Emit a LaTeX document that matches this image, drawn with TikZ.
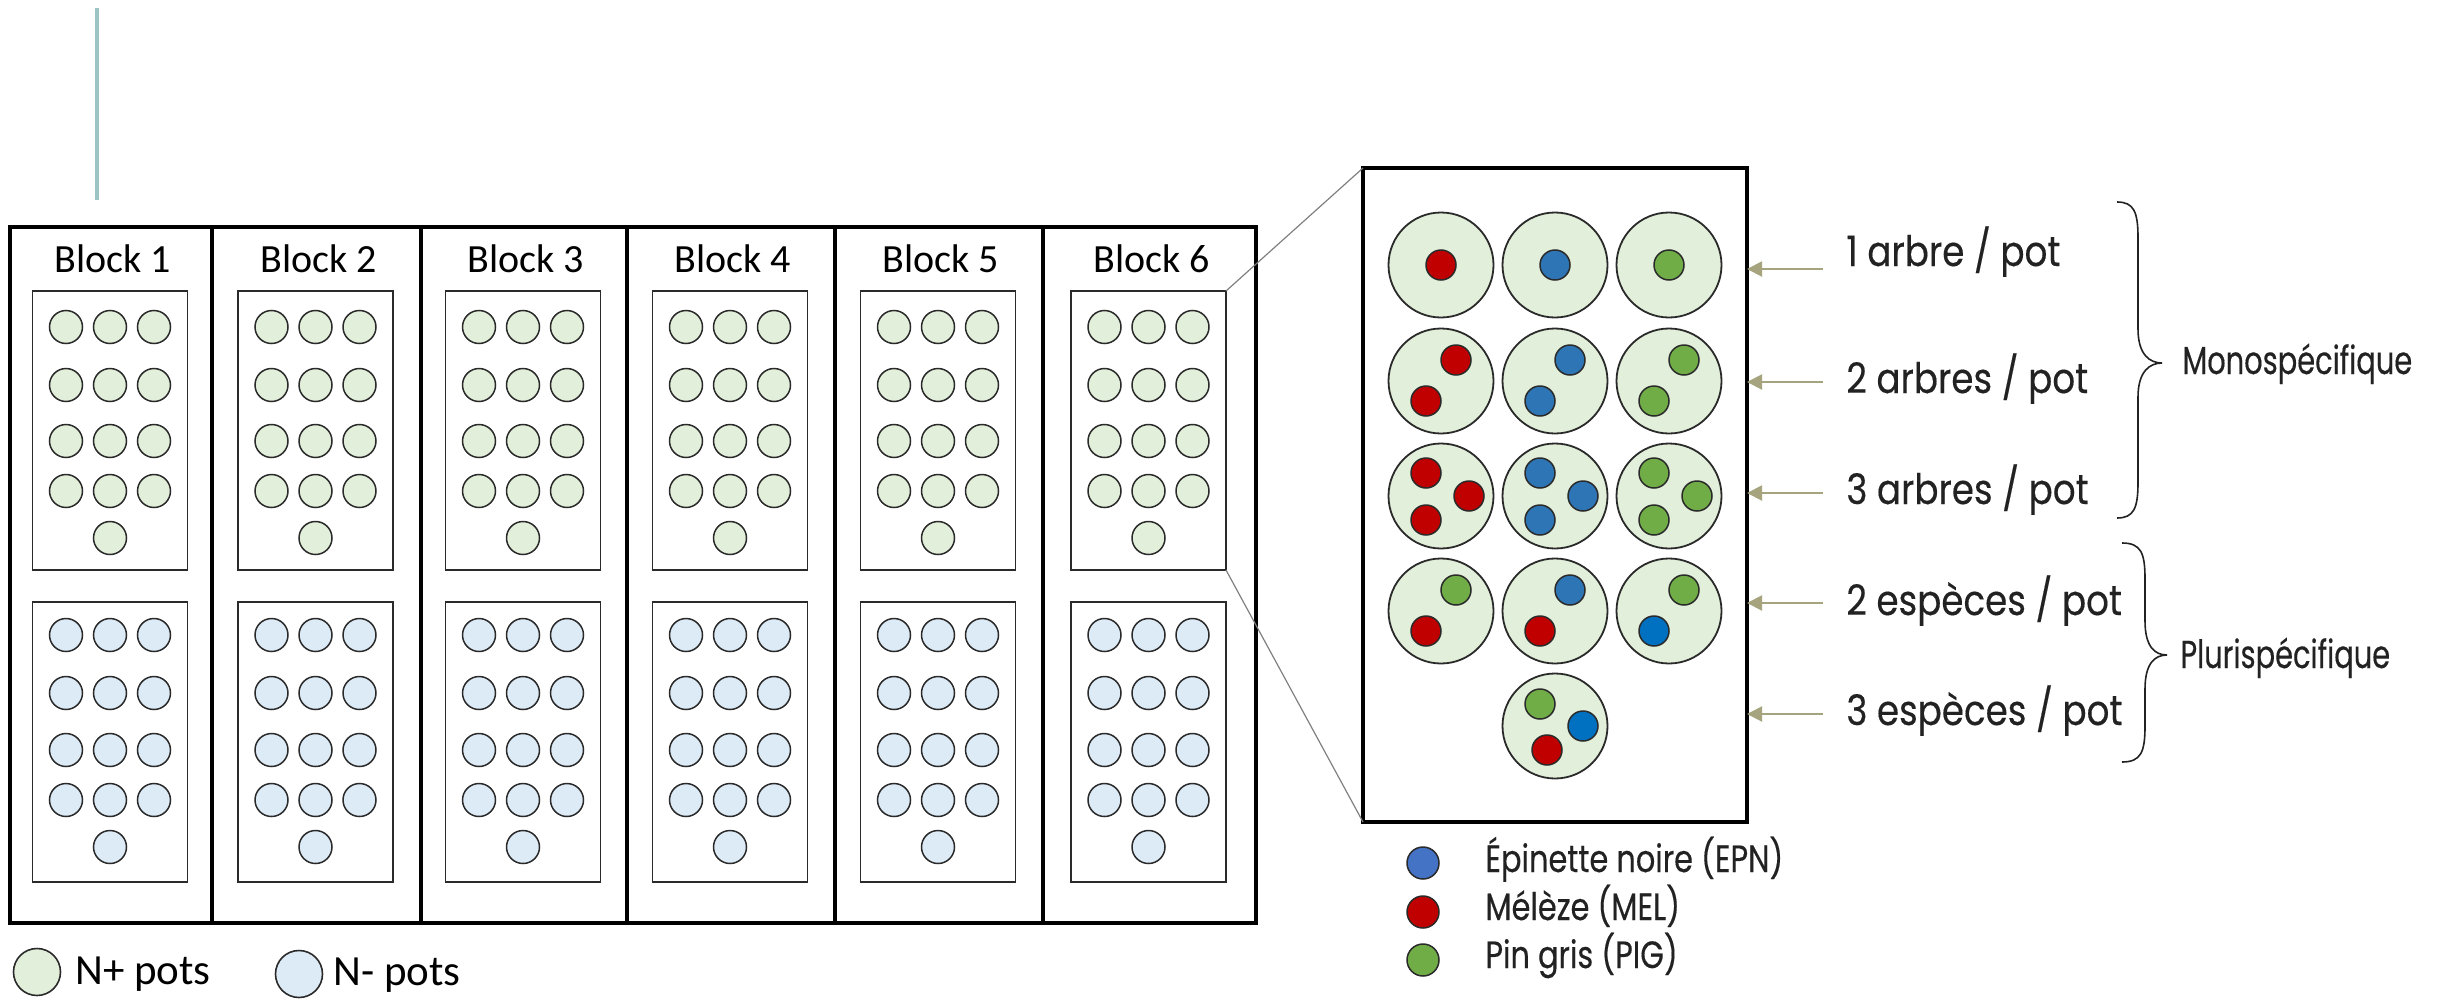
\documentclass[tikz,border=0pt]{standalone}
\usepackage{fontspec}
\setmainfont{Carlito}
\newfontfamily\geo[FakeStretch=0.85,FakeBold=0.3]{Poppins}
\newfontfamily\geon[FakeStretch=0.8,FakeBold=0.3]{Poppins}
\newfontfamily\geonn[FakeStretch=0.74,FakeBold=0.3]{Poppins}
\usetikzlibrary{arrows.meta}
\definecolor{potg}{HTML}{E2EFDA}
\definecolor{potb}{HTML}{DDEBF7}
\definecolor{cred}{HTML}{C00000}
\definecolor{cblue}{HTML}{2E75B6}
\definecolor{cbright}{HTML}{0070C0}
\definecolor{cgreen}{HTML}{70AD47}
\definecolor{lblue}{HTML}{4472C4}
\definecolor{arrowc}{RGB}{166,164,126}
\definecolor{tealc}{RGB}{157,195,196}
\definecolor{txt}{HTML}{222222}
\definecolor{edge}{HTML}{2A2A2A}
\begin{document}
\begin{tikzpicture}[x=0.5pt,y=-0.5pt,
  blockbox/.style={draw=black, line width=2pt, minimum height=348pt, inner sep=0pt, outer sep=0pt},
  blocklbl/.style={font=\fontsize{20pt}{23pt}\selectfont, anchor=base, inner sep=0pt},
  innerbox/.style={draw=edge, line width=0.9pt, minimum width=77.5pt, minimum height=139.5pt, inner sep=0pt, outer sep=0pt},
  potN/.style={circle, draw=edge, line width=0.75pt, minimum size=16.5pt, inner sep=0pt, fill=#1},
  bigpot/.style={circle, draw=edge, line width=0.9pt, minimum size=52.5pt, inner sep=0pt, fill=potg},
  tree/.style={circle, draw=edge, line width=0.75pt, minimum size=15pt, inner sep=0pt, fill=#1},
  zoomline/.style={draw=gray, line width=0.6pt},
  arr/.style={draw=arrowc, line width=1pt, -{Triangle[length=7.5pt,width=7.5pt]}},
  rowlbl/.style={font=\geo\fontsize{21pt}{25pt}\selectfont, text=txt, anchor=base west, inner sep=0pt},
  grplbl/.style={font=\geonn\fontsize{19.5pt}{23pt}\selectfont, text=txt, anchor=base west, inner sep=0pt},
  splbl/.style={font=\geon\fontsize{19pt}{22pt}\selectfont, text=txt, anchor=base west, inner sep=0pt},
  leglbl/.style={font=\fontsize{21.5pt}{25pt}\selectfont, anchor=base west, inner sep=0pt},
  bracec/.style={draw=txt, line width=0.8pt}
]
\useasboundingbox (0,0) rectangle (2458,1001);

% teal rule
\draw[tealc, line width=2pt] (97,8) -- (97,200);

% blocks
\foreach \L/\R [count=\i] in {10/212,212/421,421/627,627/835,835/1043,1043/1256} {
  \pgfmathsetmacro\cx{(\L+\R)/2}
  \pgfmathsetmacro\w{(\R-\L)/2}
  \pgfmathsetmacro\ix{\cx-1}
  \node[blockbox, minimum width=\w pt] (blk\i) at (\cx,575) {};
  \node[blocklbl] (lbl\i) at (\cx+2,272) {Block \i};
  \node[innerbox] (up\i) at (\ix,430.5) {};
  \node[innerbox, minimum height=140pt] (dn\i) at (\ix,742) {};
  \foreach \r/\yy/\zz in {1/327/635,2/385/693,3/441/750,4/491/800} {
    \foreach \c/\dx in {1/-44,2/0,3/44} {
      \node[potN=potg] (up\i-\r-\c) at ({\ix+(\dx)},\yy) {};
      \node[potN=potb] (dn\i-\r-\c) at ({\ix+(\dx)},\zz) {};
    }
  }
  \node[potN=potg] (up\i-5) at (\ix,538) {};
  \node[potN=potb] (dn\i-5) at (\ix,847) {};
}

% legend N+ / N-
\node[circle, draw=edge, line width=0.8pt, minimum size=23.5pt, inner sep=0pt, fill=potg] (legp) at (37,972) {};
\node[leglbl] (legpt) at (75,984) {N+ pots};
\node[circle, draw=edge, line width=0.8pt, minimum size=23.5pt, inner sep=0pt, fill=potb] (legm) at (299,974) {};
\node[leglbl] (legmt) at (333,985) {N- pots};

% zoom box
\node[draw=black, line width=2pt, minimum width=192pt, minimum height=327pt, inner sep=0pt, outer sep=0pt] (zoom) at (1555,495) {};
\draw[zoomline] (up6.north east) -- (zoom.north west);
\draw[zoomline] (up6.south east) -- (zoom.south west);

% big pots
\foreach \r/\yy in {1/265,2/381,3/496,4/611} {
  \foreach \c/\xx in {1/1441,2/1555,3/1669} {
    \node[bigpot] (p\r\c) at (\xx,\yy) {};
  }
}
\node[bigpot] (p52) at (1555,726) {};

% row 1
\node[tree=cred] (t11a) at (p11.center) {};
\node[tree=cblue] (t12a) at (p12.center) {};
\node[tree=cgreen] (t13a) at (p13.center) {};
% row 2
\node[tree=cred] (t21a) at ([shift={(15,-21)}]p21.center) {};
\node[tree=cred] (t21b) at ([shift={(-15,20)}]p21.center) {};
\node[tree=cblue] (t22a) at ([shift={(15,-21)}]p22.center) {};
\node[tree=cblue] (t22b) at ([shift={(-15,20)}]p22.center) {};
\node[tree=cgreen] (t23a) at ([shift={(15,-21)}]p23.center) {};
\node[tree=cgreen] (t23b) at ([shift={(-15,20)}]p23.center) {};
% row 3
\foreach \c/\col in {1/cred,2/cblue,3/cgreen} {
  \node[tree=\col] (t3\c a) at ([shift={(-15,-23)}]p3\c.center) {};
  \node[tree=\col] (t3\c b) at ([shift={(28,0)}]p3\c.center) {};
  \node[tree=\col] (t3\c c) at ([shift={(-15,24)}]p3\c.center) {};
}
% row 4
\node[tree=cgreen] (t41a) at ([shift={(15,-21)}]p41.center) {};
\node[tree=cred] (t41b) at ([shift={(-15,20)}]p41.center) {};
\node[tree=cblue] (t42a) at ([shift={(15,-21)}]p42.center) {};
\node[tree=cred] (t42b) at ([shift={(-15,20)}]p42.center) {};
\node[tree=cgreen] (t43a) at ([shift={(15,-21)}]p43.center) {};
\node[tree=cbright] (t43b) at ([shift={(-15,20)}]p43.center) {};
% row 5
\node[tree=cgreen] (t52a) at ([shift={(-15,-22)}]p52.center) {};
\node[tree=cbright] (t52b) at ([shift={(28,0)}]p52.center) {};
\node[tree=cred] (t52c) at ([shift={(-8,24)}]p52.center) {};

% species legend
\node[tree=lblue, minimum size=16pt] (lgb) at (1423,863) {};
\node[splbl] (lgbt) at (1485,872) {Épinette noire (EPN)};
\node[tree=cred, minimum size=16pt] (lgr) at (1423,912) {};
\node[splbl] (lgrt) at (1485,920) {Mélèze (MEL)};
\node[tree=cgreen, minimum size=16pt] (lgg) at (1423,960) {};
\node[splbl] (lggt) at (1485,968) {Pin gris (PIG)};

% arrows and row labels
\foreach \k/\ay/\by/\t in {1/269/266/{1 arbre / pot},2/382/393/{2 arbres / pot},3/493/504/{3 arbres / pot},4/603/615/{2 espèces / pot},5/714/725/{3 espèces / pot}} {
  \coordinate (as\k) at (1823,\ay);
  \draw[arr] (as\k) -- (as\k -| zoom.east);
  \node[rowlbl] (rl\k) at (1846,\by) {\t};
}

% braces
\def\bracepath#1#2#3#4#5#6{%
  (#1,#4) .. controls ({#2-4},#4) and (#2,{#4+10}) .. (#2,{#4+36})
  -- (#2,{#6-34}) .. controls (#2,{#6-8}) and ({#3-12},#6) .. (#3,#6)
  .. controls ({#3-12},#6) and (#2,{#6+8}) .. (#2,{#6+34})
  -- (#2,{#5-36}) .. controls (#2,{#5-10}) and ({#2-4},#5) .. (#1,#5)}
\draw[bracec] \bracepath{2117}{2138}{2162}{202}{518}{363};
\draw[bracec] \bracepath{2122}{2145}{2167}{543}{762}{655};
\node[grplbl] (mono) at (2182,374) {Monospécifique};
\node[grplbl] (pluri) at (2180,668) {Plurispécifique};
\end{tikzpicture}
\end{document}
